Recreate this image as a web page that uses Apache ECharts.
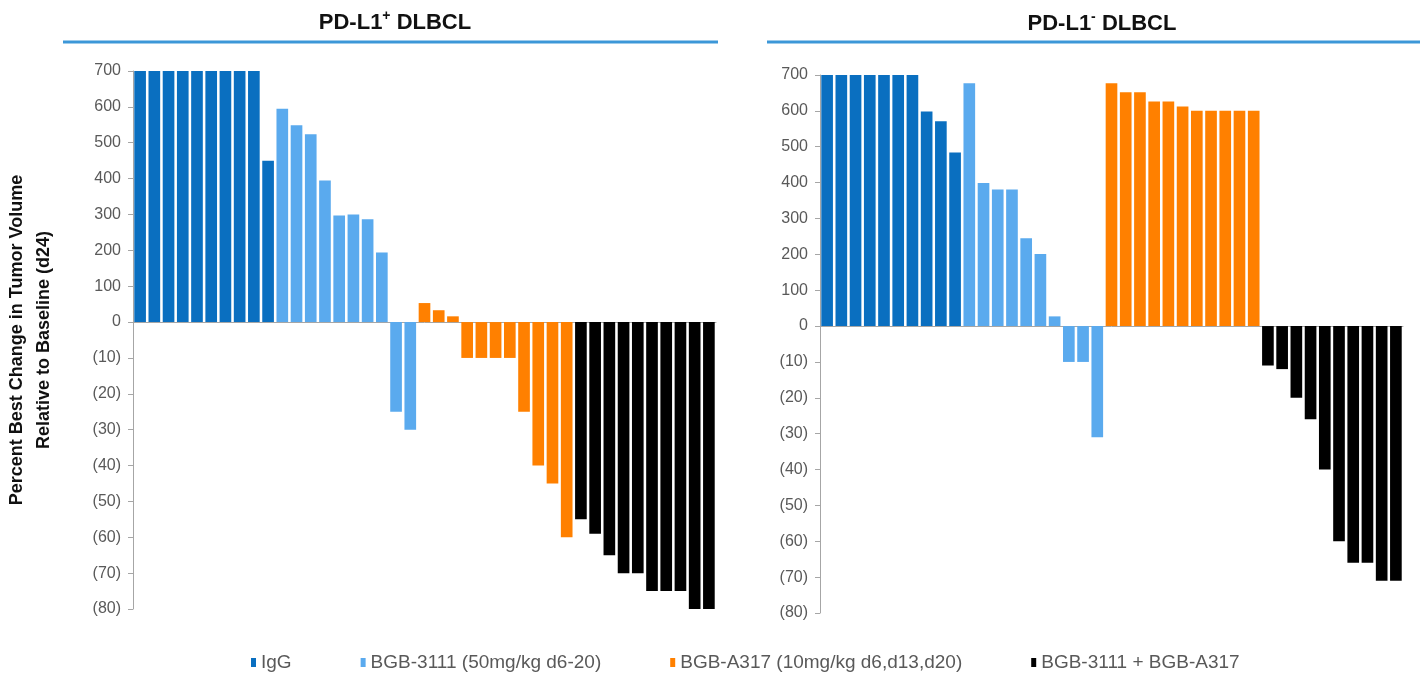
<!DOCTYPE html>
<html>
<head>
<meta charset="utf-8">
<script src="https://cdn.jsdelivr.net/npm/echarts@6/dist/echarts.min.js"></script>
<style>
  html, body { margin: 0; padding: 0; background: #fff; }
  #chart { width: 1427px; height: 673px; }
</style>
</head>
<body>
<div id="chart"></div>
<script>
// 组名
const groupNames = ['IgG', 'BGB-3111 (50mg/kg d6-20)', 'BGB-A317 (10mg/kg d6,d13,d20)', 'BGB-3111 + BGB-A317']
const groupColors = ['#0a6fc0', '#5aaaee', '#ff8000', '#000000']

// PD-L1+ DLBCL
const posIgG = [700, 700, 700, 700, 700, 700, 700, 700, 700, 450]
const posBGB3111 = [595, 549, 524, 395, 297, 300, 287, 194, -25, -30]
const posA317 = [53, 33, 16, -10, -10, -10, -10, -25, -40, -45, -60]
const posCombo = [-55, -59, -65, -70, -70, -75, -75, -75, -80, -80]

// PD-L1- DLBCL
const negIgG = [700, 700, 700, 700, 700, 700, 700, 598, 571, 484]
const negBGB3111 = [677, 399, 381, 381, 245, 201, 27, -10, -10, -31]
const negA317 = [677, 652, 652, 626, 626, 612, 600, 600, 600, 600, 600]
const negCombo = [-11, -12, -20, -26, -40, -60, -66, -66, -71, -71]

// y轴刻度: 正值每格100, 负值每格10
const yTicksPos = [0, 100, 200, 300, 400, 500, 600, 700]
const yTicksNeg = [-10, -20, -30, -40, -50, -60, -70, -80]

const toAxis = v => (v >= 0 ? v / 100 : v / 10)
const fromAxis = t => (t >= 0 ? t * 100 : t * 10)
const fmtTick = t => {
  const v = Math.round(fromAxis(t))
  return v < 0 ? `(${-v})` : String(v)
}

const buildSeries = (groups, gridIdx) => {
  const total = groups.reduce((s, g) => s + g.length, 0)
  const result = []
  let offset = 0
  groups.forEach((g, gi) => {
    const data = new Array(total).fill('-')
    g.forEach((v, i) => { data[offset + i] = toAxis(v) })
    offset += g.length
    result.push({
      name: groupNames[gi],
      type: 'bar',
      xAxisIndex: gridIdx,
      yAxisIndex: gridIdx,
      stack: 'grid' + gridIdx,
      barCategoryGap: '18%',
      itemStyle: { color: groupColors[gi] },
      data
    })
  })
  return { series: result, total }
}

const left = buildSeries([posIgG, posBGB3111, posA317, posCombo], 0)
const right = buildSeries([negIgG, negBGB3111, negA317, negCombo], 1)

const cats = n => Array.from({ length: n }, (_, i) => String(i + 1))

const axisColor = '#a6a6a6'
const labelColor = '#595959'
const font = 'Liberation Sans, Arial, sans-serif'

const makeYAxis = (gridIndex, extra) => Object.assign({
  type: 'value',
  gridIndex,
  min: toAxis(yTicksNeg[yTicksNeg.length - 1]),
  max: toAxis(yTicksPos[yTicksPos.length - 1]),
  interval: 1,
  axisLine: { show: true, lineStyle: { color: axisColor, width: 1 } },
  axisTick: { show: true, length: 5, lineStyle: { color: axisColor } },
  splitLine: { show: false },
  axisLabel: {
    formatter: fmtTick,
    color: labelColor,
    fontSize: 16,
    fontFamily: font,
    margin: 12
  }
}, extra)

const makeXAxis = (gridIndex, n) => ({
  type: 'category',
  gridIndex,
  data: cats(n),
  axisLine: { onZero: true, lineStyle: { color: axisColor, width: 1 } },
  axisTick: { show: false },
  axisLabel: { show: false }
})

const titleRich = {
  n: { fontSize: 22, fontWeight: 'bold', color: '#111', lineHeight: 28, fontFamily: font },
  s: { fontSize: 14, fontWeight: 'bold', color: '#111', lineHeight: 14, verticalAlign: 'top', fontFamily: font }
}

const chart = echarts.init(document.getElementById('chart'))
chart.setOption({
  animation: false,
  backgroundColor: '#ffffff',
  title: [
    {
      text: '{n|PD-L1}{s|+}{n| DLBCL}',
      left: 390, top: 4, textAlign: 'center',
      textStyle: { rich: titleRich }
    },
    {
      text: '{n|PD-L1}{s|-}{n| DLBCL}',
      left: 1097, top: 5, textAlign: 'center',
      textStyle: { rich: titleRich }
    }
  ],
  graphic: [
    { type: 'line', shape: { x1: 63, y1: 42, x2: 718, y2: 42 }, style: { stroke: '#3c97d8', lineWidth: 3 } },
    { type: 'line', shape: { x1: 767, y1: 42, x2: 1420, y2: 42 }, style: { stroke: '#3c97d8', lineWidth: 3 } }
  ],
  legend: {
    data: groupNames,
    left: 246,
    top: 648,
    icon: 'rect',
    itemWidth: 5,
    itemHeight: 9,
    itemGap: 69,
    textStyle: { fontSize: 19, color: labelColor, fontFamily: font }
  },
  grid: [
    { left: 133, top: 71, width: 583, height: 538 },
    { left: 820, top: 75, width: 583, height: 538 }
  ],
  xAxis: [makeXAxis(0, left.total), makeXAxis(1, right.total)],
  yAxis: [
    makeYAxis(0, {
      name: 'Percent Best Change in Tumor Volume\nRelative to Baseline (d24)',
      nameLocation: 'middle',
      nameGap: 75,
      nameTextStyle: {
        fontSize: 18, fontWeight: 'bold', color: '#111', lineHeight: 27,
        fontFamily: font
      }
    }),
    makeYAxis(1)
  ],
  series: [...left.series, ...right.series]
})
</script>
</body>
</html>
